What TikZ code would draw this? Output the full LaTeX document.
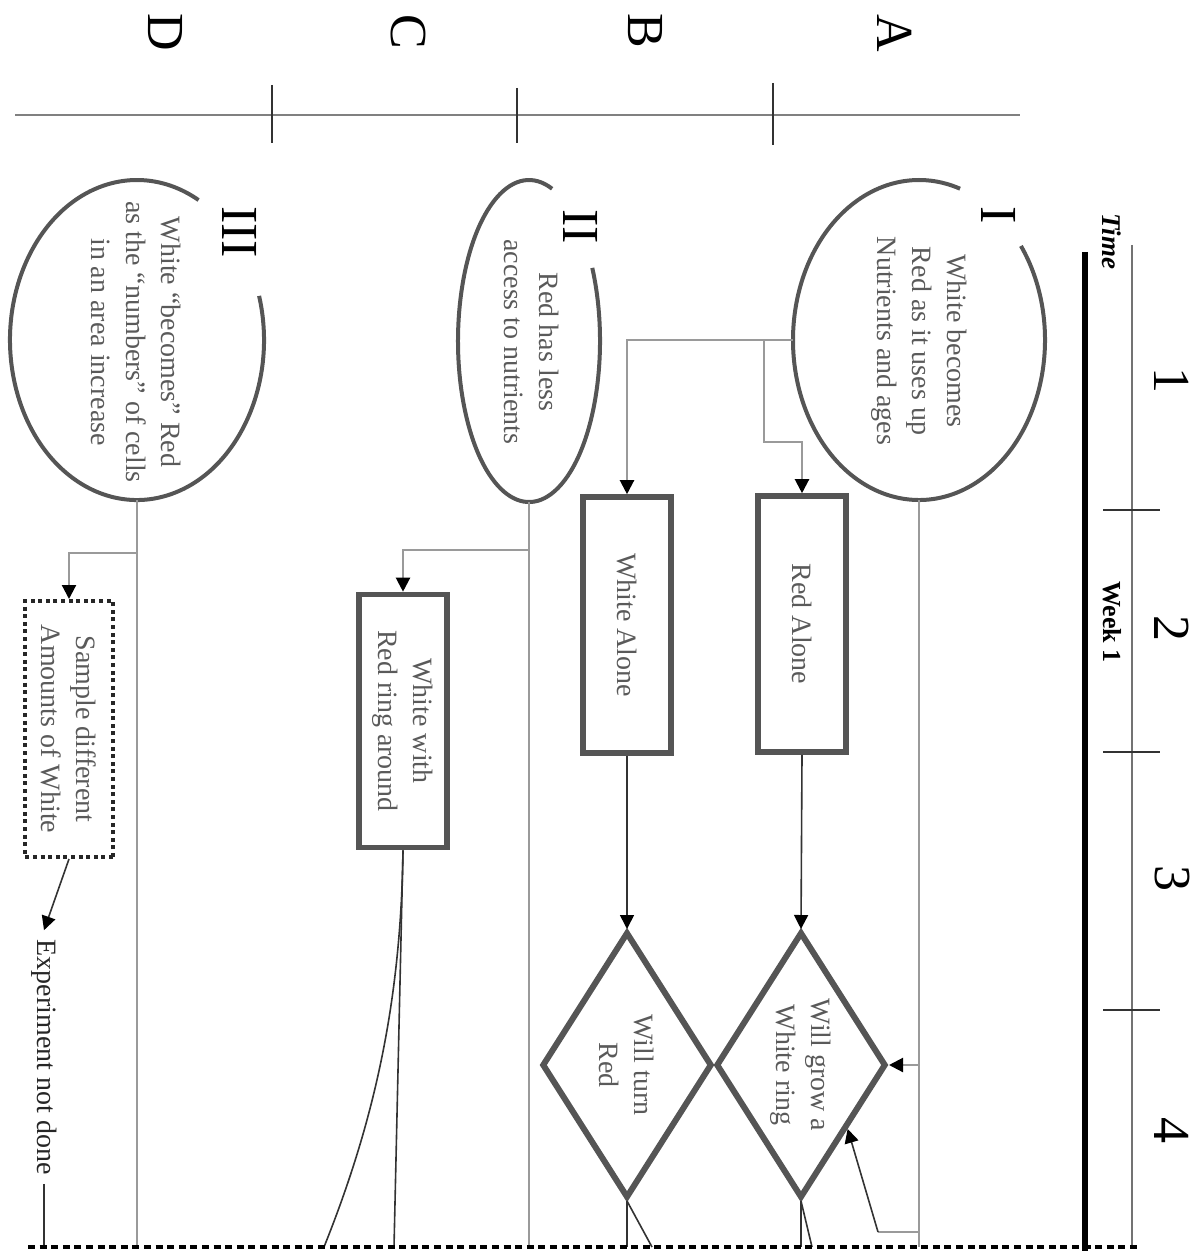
\documentclass[tikz,border=0pt]{standalone}
\usepackage{fontspec}
\setmainfont{Liberation Serif}
\usetikzlibrary{shapes.geometric,arrows.meta,calc}
\definecolor{bord}{HTML}{555555}
\definecolor{txtg}{HTML}{5A5A5A}
\definecolor{conng}{HTML}{9A9A9A}
\definecolor{connd}{HTML}{333333}
\tikzset{
  txt/.style={font=\fontsize{14}{17.5}\selectfont, text=txtg, align=center, inner sep=0pt},
  lbl/.style={rotate=-90, inner sep=0pt},
  bigl/.style={font=\fontsize{26}{30}\selectfont, text=black, inner sep=0pt, rotate=-90},
  ell/.style={ellipse, draw=none, inner sep=0pt},
  ellline/.style={draw=bord, line width=2pt},
  boxn/.style={rectangle, draw=bord, line width=2.8pt, rotate=-90, minimum width=128pt, minimum height=44pt, txt},
  dia/.style={diamond, draw=bord, line width=3pt, rotate=-90, minimum width=133pt, minimum height=85pt, aspect=1.56, txt},
  gconn/.style={draw=conng, line width=1.1pt},
  dconn/.style={draw=connd, line width=0.8pt},
  arr/.style={-{Triangle[length=7pt,width=7pt,color=black]}},
  tickl/.style={draw=black!80, line width=0.9pt},
}
\begin{document}
\begin{tikzpicture}[x=0.5pt,y=-0.5pt]
\useasboundingbox (0,0) rectangle (1199,1251);
\coordinate (bot) at (0,1247);

% lane axis
\draw[draw=black!50, line width=1.2pt] (15,115) -- (1020,115);
\draw[tickl] (272,85) -- (272,143);
\draw[tickl] (517,88) -- (517,143);
\draw[tickl] (773,83) -- (773,145);
\node[bigl] (lD) at (165,32) {D};
\node[bigl] (lC) at (408,32) {C};
\node[bigl] (lB) at (645,31) {B};
\node[bigl] (lA) at (895,33) {A};

% timeline
\draw[line width=3pt, black] (1085,252) -- (1085,1251);
\draw[draw=black!55, line width=1pt] (1132,245) -- (1132,1247);
\draw[tickl] (1103,510) -- (1160,510);
\draw[tickl] (1103,752) -- (1160,752);
\draw[tickl] (1103,1010) -- (1160,1010);
\node[bigl] (w1) at (1172,380) {1};
\node[bigl] (w2) at (1172,628) {2};
\node[bigl] (w3) at (1172,878) {3};
\node[bigl] (w4) at (1172,1130) {4};
\node[lbl, font=\fontsize{13.5}{16}\selectfont\bfseries\itshape] (tm) at (1112,241) {Time};
\node[lbl, font=\fontsize{13}{16}\selectfont\bfseries] (wk) at (1112,622) {Week 1};

% ellipses
\node[ell, minimum width=126pt, minimum height=160pt] (e1) at (919,340) {};
\node[ell, minimum width=71pt, minimum height=161pt] (e2) at (529,341) {};
\node[ell, minimum width=127pt, minimum height=160pt] (e3) at (137,340) {};
\draw[ellline] (e1.center) ++(-36:126 and 160) arc[start angle=-36, end angle=289, x radius=126, y radius=160];
\draw[ellline] (e2.center) ++(-27:71 and 161) arc[start angle=-27, end angle=289, x radius=71, y radius=161];
\draw[ellline] (e3.center) ++(-16:127 and 160) arc[start angle=-16, end angle=299, x radius=127, y radius=160];
\node[txt, lbl] (t1) at (919,341) {White becomes\\Red as it uses up\\Nutrients and ages};
\node[txt, lbl] (t2) at (532,342) {Red has less\\access to nutrients};
\node[txt, lbl] (t3) at (136,342) {White “becomes” Red\\as the “numbers” of cells\\in an area increase};
\node[bigl] (n1) at (999,215) {I};
\node[bigl] (n2) at (581,227) {II};
\node[bigl] (n3) at (240,232) {III};

% boxes
\node[boxn] (ra) at (802,624) {Red Alone};
\node[boxn] (wa) at (627,625) {White Alone};
\node[boxn, minimum width=126.5pt] (wr) at (403,721) {White with\\Red ring around};
\node[boxn, draw=black!85, line width=2pt, dash pattern=on 2pt off 1.8pt] (sa) at (69,729) {Sample different\\Amounts of White};

% diamonds
\node[dia] (d1) at (801,1065) {Will grow a\\White ring};
\node[dia] (d2) at (627,1065) {Will turn\\Red};

\node[txt, lbl, text=black!85, inner sep=4.5pt] (xnd) at (44,1057) {Experiment not done};

% connectors from ellipse I
\coordinate (j1) at (764,442);
\draw[gconn, arr] (e1.west) -| (wa.west);
\draw[gconn, arr] (j1 |- e1.west) -- (j1) -| (ra.west);
\draw[gconn] (e1.south) -- (e1.south |- bot);
\draw[gconn, arr] (e1.south |- d1.north) -- (d1.north);
\coordinate (j2) at (878,1232);
\draw[gconn] (e1.south |- j2) -- (j2);
\draw[dconn, arr] (j2) -- ($(d1.north)!0.47!(d1.east)$);

% boxes to diamonds
\draw[dconn, arr] (ra.east) -- (d1.west);
\draw[dconn, arr] (wa.east) -- (d2.west);
\coordinate (q1) at (812,1247);
\coordinate (q2) at (652,1247);
\draw[dconn] (d1.east) -- (d1.east |- bot);
\draw[dconn] (d1.east) -- (q1);
\draw[dconn] (d2.east) -- (d2.east |- bot);
\draw[dconn] (d2.east) -- (q2);

% ellipse II
\draw[gconn] (e2.south) -- (e2.south |- bot);
\draw[gconn, arr] (e2.south |- 0,550) -| (wr.west);
\coordinate (q3) at (394,1247);
\coordinate (q4) at (324,1247);
\draw[dconn] (wr.east) -- (q3);
\draw[dconn] (wr.east) .. controls (401,1000) and (375,1120) .. (q4);

% ellipse III
\draw[gconn] (e3.south) -- (e3.south |- bot);
\draw[gconn, arr] (e3.south |- 0,553) -| (sa.west);
\draw[dconn, arr] (sa.east) -- (xnd.west);
\draw[dconn] (xnd.east) -- (xnd.east |- bot);

% bottom dotted border
\coordinate (botL) at (28,1247);
\coordinate (botR) at (1137,1247);
\draw[line width=2.3pt, dash pattern=on 3.5pt off 2.3pt] (botL) -- (botR);
\end{tikzpicture}
\end{document}
